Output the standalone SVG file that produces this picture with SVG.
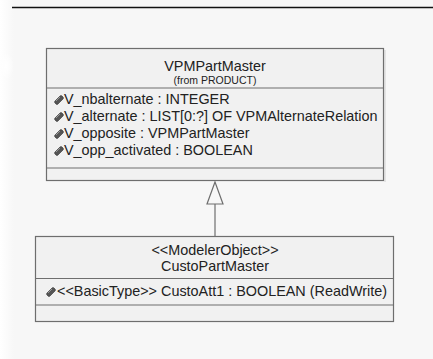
<svg xmlns="http://www.w3.org/2000/svg" width="433" height="359" viewBox="0 0 433 359">
<defs>
<style>
.box{fill:#f1f1f1;stroke:#6e6e6e;stroke-width:1.2}
.div{stroke:#6e6e6e;stroke-width:1.2}
.t{font-family:"Liberation Sans",Arial,sans-serif;font-size:14.4px;fill:#222}
.s{font-family:"Liberation Sans",Arial,sans-serif;font-size:10.5px;fill:#222}
.c{text-anchor:middle}
.edge{stroke:#6e6e6e;stroke-width:1.2;fill:none}
</style>
<linearGradient id="lg" x1="0" y1="0" x2="1" y2="0">
<stop offset="0" stop-color="#ffffff"/>
<stop offset="1" stop-color="#f7f7f7"/>
</linearGradient>
<radialGradient id="rg" cx="0.5" cy="0.5" r="0.5">
<stop offset="0" stop-color="#ffffff"/>
<stop offset="1" stop-color="#ffffff" stop-opacity="0"/>
</radialGradient>
<g id="icon">
<path d="M-4,2 L1,-3 Q2,-4 3,-3 L4,-2 Q5,-1 4,0 L-1,5 Q-2,6 -3,5 L-4,4 Q-5,3 -4,2 Z" fill="#555" stroke="#333" stroke-width="0.6"/>
<path d="M-3,2 L1,-2" stroke="#aaa" stroke-width="0.8"/>
</g>
</defs>
<rect width="433" height="359" fill="#f7f7f7"/>
<rect width="14" height="359" fill="url(#lg)"/>
<ellipse cx="6" cy="66" rx="8" ry="14" fill="url(#rg)"/>
<line x1="12" y1="7.5" x2="433" y2="7.5" stroke="#111" stroke-width="1.5"/>

<g id="connectors">
<line class="edge" x1="215" y1="204" x2="215" y2="236"/>
<polygon class="edge" points="215,182 207,204 223,204" fill="#f7f7f7"/>
</g>

<g id="VPMPartMaster">
<line x1="385" y1="50" x2="385" y2="182" stroke="#d2d2d2" stroke-width="1"/>
<rect class="box" x="46.5" y="48.5" width="337" height="132"/>
<line class="div" x1="46.5" y1="88" x2="383.5" y2="88"/>
<line class="div" x1="46.5" y1="168" x2="383.5" y2="168"/>
<text class="t c" x="215" y="71">VPMPartMaster</text>
<text class="s c" x="215" y="84">(from PRODUCT)</text>
<use href="#icon" x="59" y="99"/>
<text class="t" x="64" y="103.5">V_nbalternate : INTEGER</text>
<use href="#icon" x="59" y="116"/>
<text class="t" x="64" y="120.5">V_alternate : LIST[0:?] OF VPMAlternateRelation</text>
<use href="#icon" x="59" y="133"/>
<text class="t" x="64" y="137.5">V_opposite : VPMPartMaster</text>
<use href="#icon" x="59" y="150"/>
<text class="t" x="64" y="154.5">V_opp_activated : BOOLEAN</text>
</g>

<g id="CustoPartMaster">
<rect class="box" x="35.5" y="236.5" width="358" height="85"/>
<line class="div" x1="35.5" y1="278.5" x2="393.5" y2="278.5"/>
<line class="div" x1="35.5" y1="305" x2="393.5" y2="305"/>
<text class="t c" x="215" y="255">&lt;&lt;ModelerObject&gt;&gt;</text>
<text class="t c" x="215" y="271">CustoPartMaster</text>
<use href="#icon" x="51" y="291"/>
<text class="t" x="57" y="295.5">&lt;&lt;BasicType&gt;&gt; CustoAtt1 : BOOLEAN (ReadWrite)</text>
</g>
</svg>
